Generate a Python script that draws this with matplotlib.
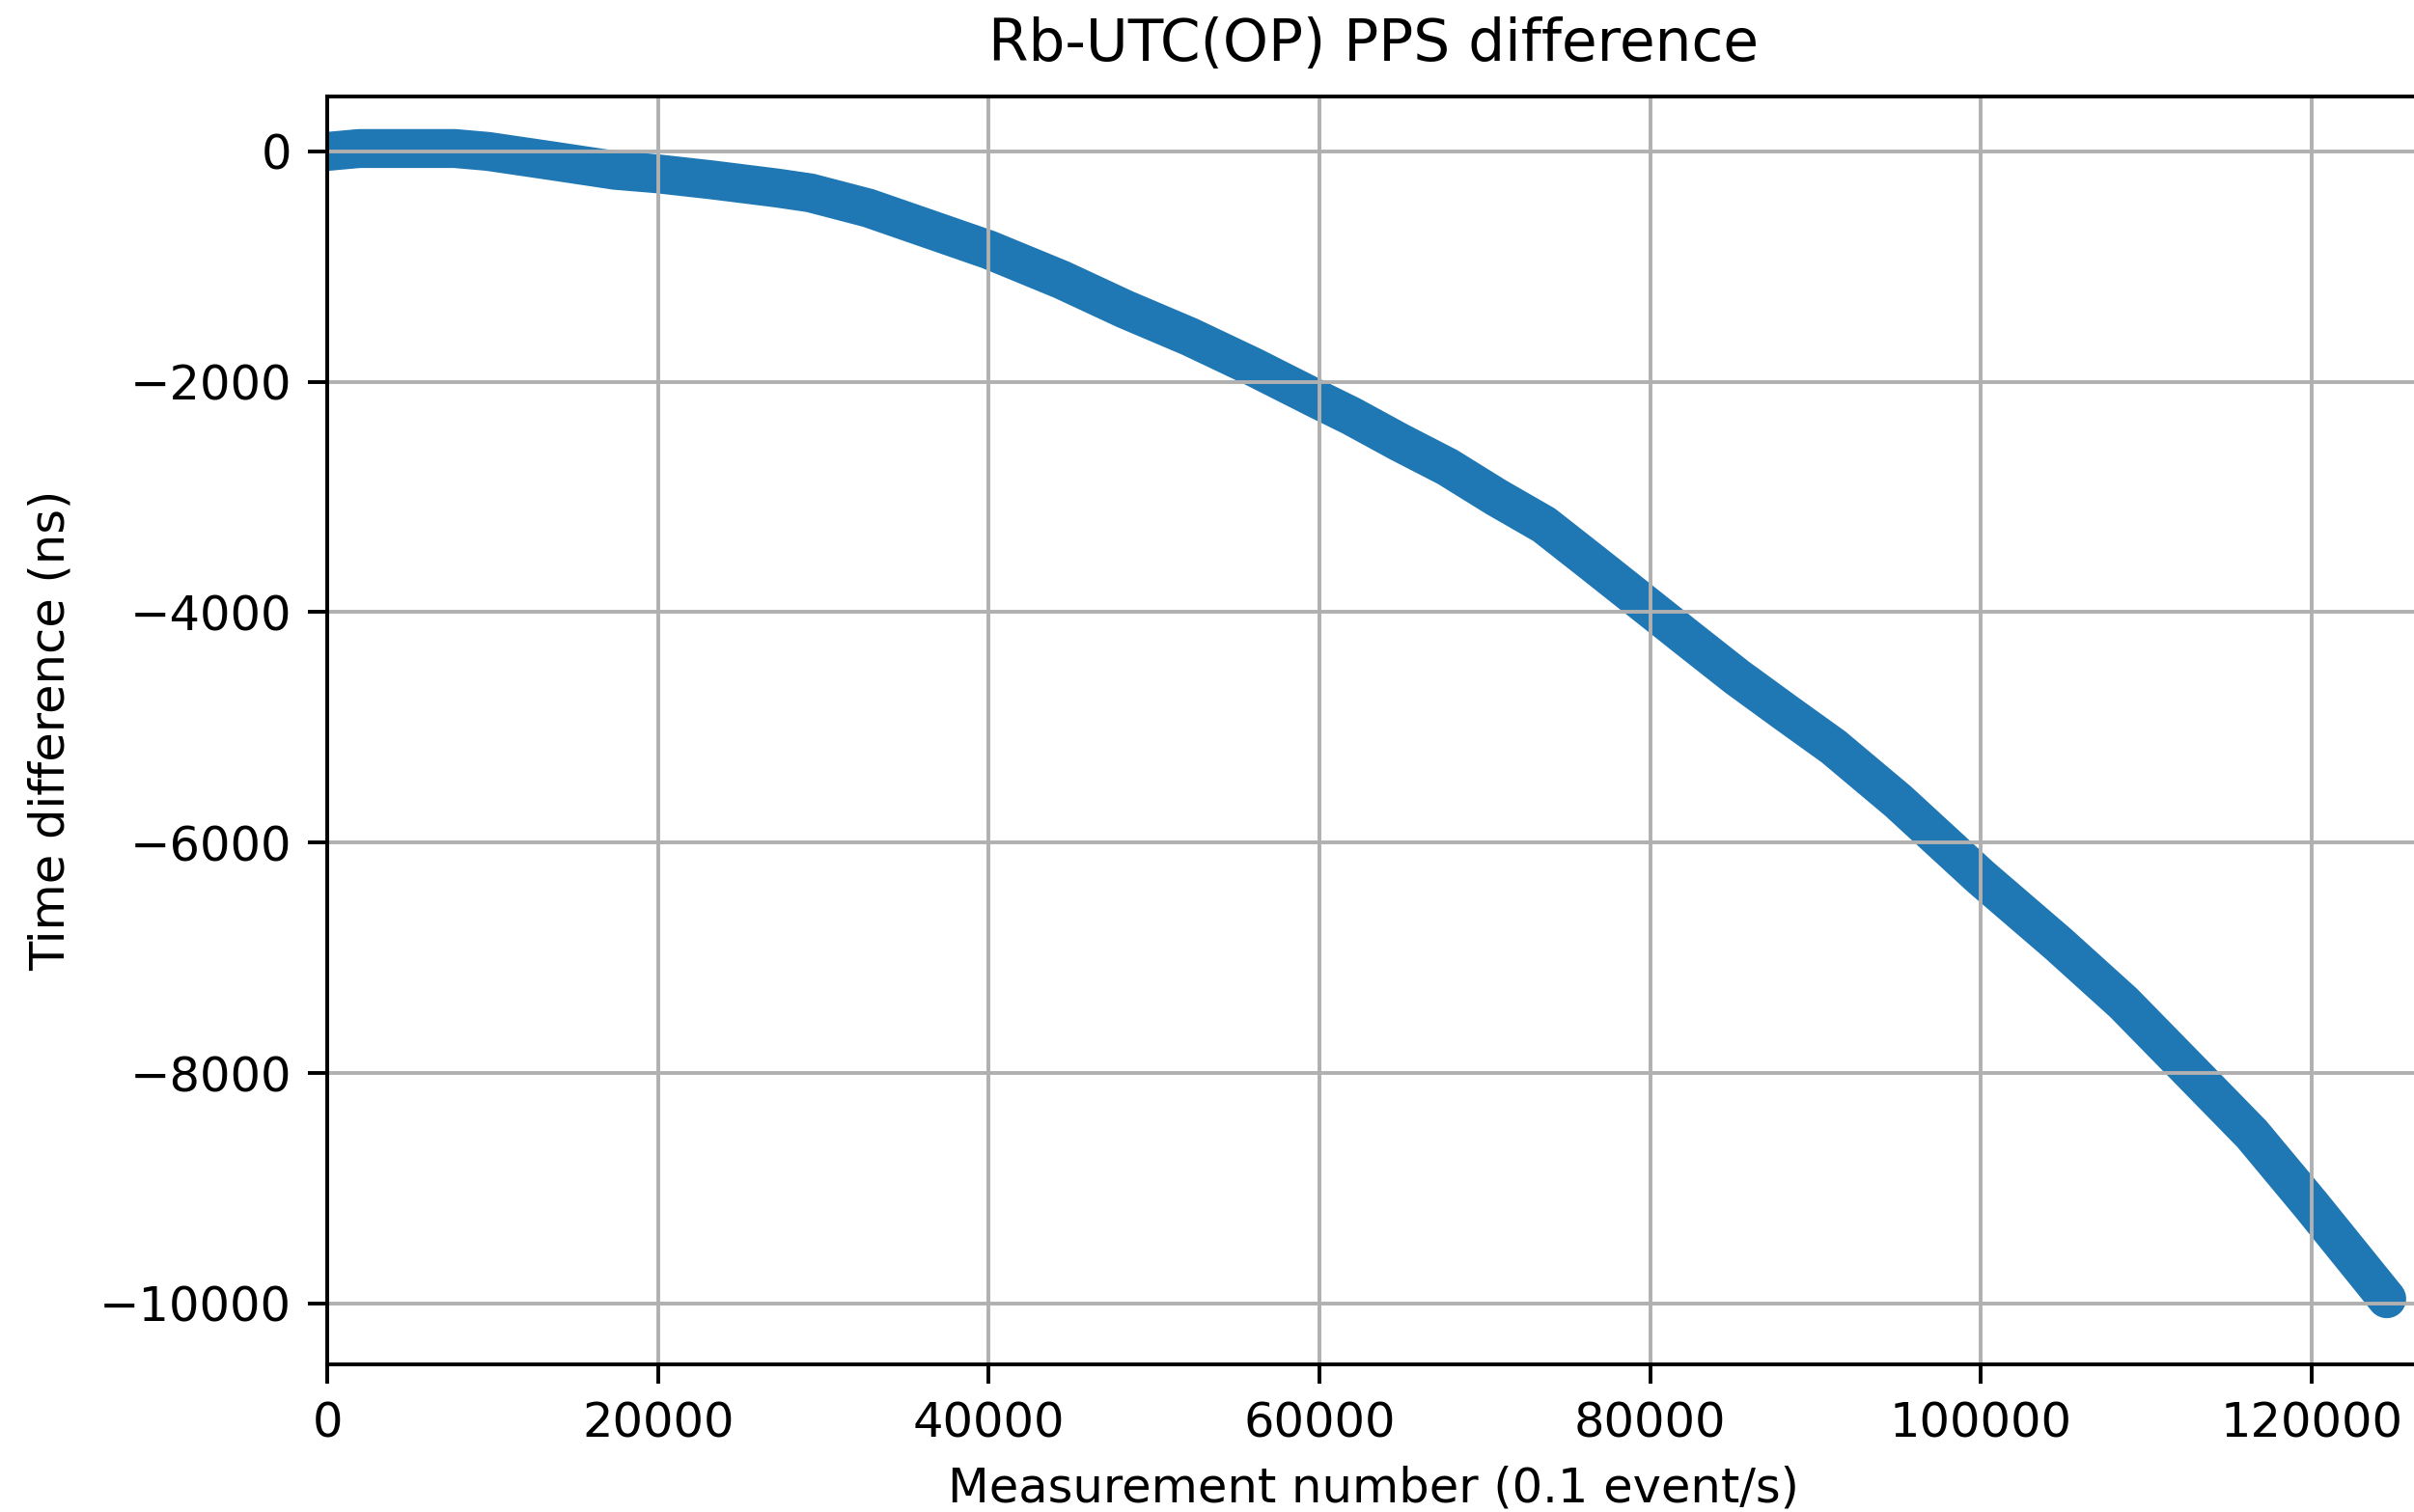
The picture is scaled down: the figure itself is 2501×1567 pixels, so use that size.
import numpy as np
import matplotlib.pyplot as plt

# Values
# ---------------------------------------
# measurement number (x) and Rb - UTC(OP) time difference in ns (y)
measurement = [0, 1900, 7700, 9700, 13500, 17400, 20000, 23300, 27200, 29200,
               32700, 40000, 44400, 48250, 52140, 56030, 60000, 61900, 64830,
               67750, 70670, 73590, 76510, 80000, 82350, 85270, 88190, 91100,
               95000, 100000, 104700, 108630, 112520, 116400, 120000, 124560]
time_diff = [0, 25, 25, 0, -80, -164, -195, -248, -318, -360,
             -491, -854, -1114, -1371, -1608, -1873, -2161, -2295, -2524,
             -2740, -3000, -3241, -3570, -3967, -4235, -4565, -4870, -5170,
             -5640, -6300, -6880, -7390, -7960, -8530, -9150, -9960]

xTicks = [0, 20000, 40000, 60000, 80000, 100000, 120000]
yTicks = [0, -2000, -4000, -6000, -8000, -10000]

# Figure set-up
# -------------
DPI = 350
plt.rcParams['font.size'] = 10.2
plt.rcParams['xtick.major.size'] = 4.2
plt.rcParams['ytick.major.size'] = 4.2

fig = plt.figure(figsize=(2501 / DPI, 1567 / DPI), dpi=DPI)
graph = fig.add_axes([0.1357, 0.0976, 0.8663, 0.8386])

# thick band, drawn under the grid like a scatter collection would be
graph.plot(measurement, time_diff, color='#1f77b4', linewidth=8.3,
           solid_capstyle='round', solid_joinstyle='round', zorder=1)

graph.set_xlim(0, 126500)
graph.set_ylim(-10530, 477)
graph.set_xticks(xTicks)
graph.set_yticks(yTicks)

graph.set_title('Rb-UTC(OP) PPS difference', fontsize=12.3, pad=7.6)
graph.set_xlabel('Measurement number (0.1 event/s)')
graph.set_ylabel('Time difference (ns)', labelpad=5.5)
graph.grid()

fig.savefig('out.png', dpi=DPI)
